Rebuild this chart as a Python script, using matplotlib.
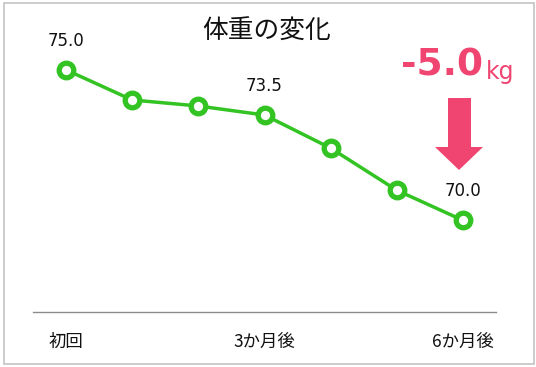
import matplotlib
matplotlib.use('Agg')
import matplotlib.pyplot as plt
from matplotlib.patches import Polygon, Rectangle
from matplotlib.transforms import Affine2D

plt.rcParams['font.family'] = ['Noto Sans CJK JP', 'DejaVu Sans']

# weight records (kg)
steps = [0, 1, 2, 3, 4, 5, 6]
weights = [75.0, 74.0, 73.8, 73.5, 72.4, 71.0, 70.0]
tick_pos = [0, 3, 6]
tick_labels = ['初回', '3か月後', '6か月後']
labeled = [0, 3, 6]
title = '体重の変化'
diff_text = '-5.0'
unit_text = 'kg'

green = '#33c424'
pink = '#ef4570'

W, H = 536, 367
fig = plt.figure(figsize=(W / 100, H / 100), dpi=100)

# pixel transform with origin at the top-left corner
px = Affine2D().scale(1, -1).translate(0, H).scale(1 / 100) + fig.dpi_scale_trans

# frame around the whole picture
fig.patches.append(Rectangle((3.5, 3), 530, 361, transform=px, fill=False,
                             edgecolor='#c4c4c4', linewidth=1.2))

ax = fig.add_axes([33 / W, 55 / H, 463 / W, 272 / H])
ax.plot(steps, weights, color=green, linewidth=2.5, marker='o',
        markersize=10.5, markerfacecolor='white', markeredgecolor=green,
        markeredgewidth=3.8, zorder=3, clip_on=False)

for i in labeled:
    ax.annotate(f'{weights[i]:.1f}', (steps[i], weights[i]), xytext=(0, 21),
                textcoords='offset points', ha='center', va='center',
                fontsize=12, color='#111111', family=['DejaVu Sans'])

ax.set_xlim(-0.5, 6.5)
ax.set_ylim(70 - 92 / 30.2, 75 + 30 / 30.2)
for s in ['top', 'left', 'right']:
    ax.spines[s].set_visible(False)
ax.spines['bottom'].set_color('#8c8c8c')
ax.spines['bottom'].set_linewidth(1.0)
ax.set_yticks([])
ax.set_xticks(tick_pos)
ax.set_xticklabels(tick_labels, fontsize=12.5, color='#111111')
ax.tick_params(axis='x', length=0, pad=15)

fig.text(267 / W, 1 - 32 / H, title, ha='center', va='center', fontsize=18.5,
         color='#111111')

# change callout
fig.text(483 / W, 1 - 66 / H, diff_text, ha='right', va='center', fontsize=27,
         fontweight='bold', color=pink, family=['DejaVu Sans'])
fig.text(486 / W, 1 - 72 / H, unit_text, ha='left', va='center', fontsize=17,
         color=pink, family=['DejaVu Sans'])

arrow = [(448, 98), (471, 98), (471, 147), (483, 147), (459, 170),
         (435, 147), (448, 147)]
fig.patches.append(Polygon(arrow, closed=True, transform=px,
                           facecolor=pink, edgecolor='none'))

fig.savefig('out.png', dpi=100)
